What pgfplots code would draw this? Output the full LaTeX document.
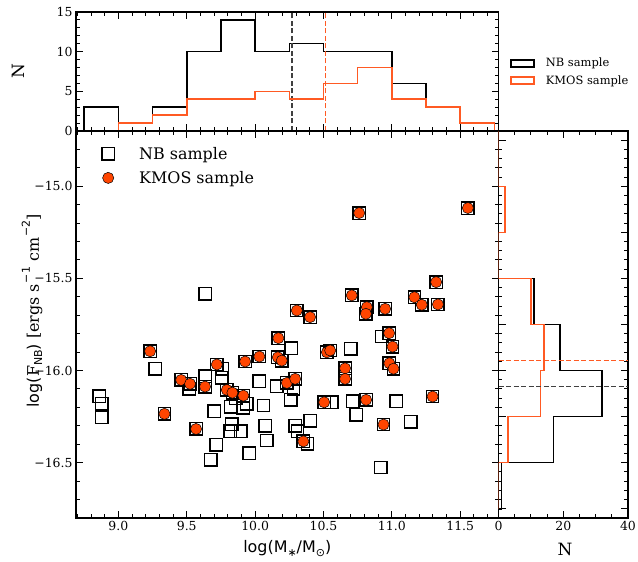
\documentclass[border=0pt]{standalone}
\usepackage{fontspec}
\setmainfont{DejaVu Serif}
\newfontfamily\dvs{DejaVu Sans}
\usepackage{pgfplots}
\pgfplotsset{compat=1.18}
\definecolor{kmos}{RGB}{255,69,0}
\definecolor{kmosline}{RGB}{255,90,35}
\pgfplotsset{mystyle/.style={
  scale only axis,
  axis line style={line width=1.5bp},
  tick align=inside, tick pos=both,
  major tick length=7bp, minor tick length=3.8bp,
  major tick style={line width=1.2bp,black},
  minor tick style={line width=1bp,black},
  tick label style={font=\fontsize{12.5}{14}\selectfont},
  /pgf/number format/assume math mode=true,
}}
\begin{document}
\begin{tikzpicture}
\useasboundingbox (0,0) rectangle (638bp,562bp);
% ---------------- top histogram ----------------
\begin{axis}[mystyle, at={(76bp,431bp)}, anchor=south west,
  width=422.5bp, height=119bp,
  xmin=8.69, xmax=11.78, ymin=0, ymax=15,
  xtick={9,9.5,10,10.5,11,11.5}, xticklabels={},
  minor xtick={8.7,8.8,...,11.75},
  ytick={0,5,10,15}, minor ytick={1,2,3,4,6,7,8,9,11,12,13,14},
  ylabel={N}, ylabel style={font=\fontsize{17}{19}\selectfont, at={(axis description cs:-0.136,0.5)}, anchor=center},
  legend style={at={(axis description cs:1.0272,0.613)}, anchor=north west, draw=none, fill=none,
    inner xsep=0pt, inner ysep=0pt, font=\fontsize{11.5}{13}\selectfont, row sep=7bp,
    nodes={inner sep=0pt}},
  legend cell align=left,
]
\addlegendimage{legend image code/.code={\path[draw=none,fill=none] (0bp,-5bp) rectangle (35bp,5bp);
  \draw[black,line width=1.4bp,fill=none] (0bp,-3.5bp) rectangle (23bp,3.5bp);}}
\addlegendentry{NB sample}
\addlegendimage{legend image code/.code={\path[draw=none,fill=none] (0bp,-5bp) rectangle (35bp,5bp);
  \draw[kmosline,line width=1.4bp,fill=none] (0bp,-3.5bp) rectangle (23bp,3.5bp);}}
\addlegendentry{KMOS sample}
\addplot[color=black, line width=1.5bp, forget plot] coordinates {
(8.75,0) (8.75,3) (9.0,3) (9.0,1) (9.25,1) (9.25,3) (9.5,3) (9.5,10) (9.75,10) (9.75,14)
(10.0,14) (10.0,10) (10.25,10) (10.25,11) (10.5,11) (10.5,10) (10.75,10) (11.0,10) (11.0,6)
(11.25,6) (11.25,3) (11.5,3) (11.5,1) (11.75,1) (11.75,0)};
\addplot[color=black!75, line width=1.4bp, dash pattern=on 5bp off 2.5bp, forget plot] coordinates {(10.27,0) (10.27,15)};
\addplot[color=kmosline, line width=1.4bp, dash pattern=on 5bp off 2.5bp, forget plot] coordinates {(10.515,0) (10.515,15)};
\addplot[color=kmosline, line width=1.6bp, forget plot] coordinates {
(9.0,0) (9.0,1) (9.25,1) (9.25,2) (9.5,2) (9.5,4) (9.75,4) (10.0,4) (10.0,5) (10.25,5)
(10.25,4) (10.5,4) (10.5,6) (10.75,6) (10.75,8) (11.0,8) (11.0,4) (11.25,4) (11.25,3)
(11.5,3) (11.5,1) (11.75,1) (11.75,0)};
\end{axis}
% ---------------- main scatter ----------------
\begin{axis}[mystyle, at={(76bp,44bp)}, anchor=south west,
  width=422.5bp, height=387bp,
  xmin=8.69, xmax=11.78, ymin=-16.80, ymax=-14.70,
  xtick={9,9.5,10,10.5,11,11.5}, xticklabels={9.0,9.5,10.0,10.5,11.0,11.5},
  minor xtick={8.7,8.8,...,11.75},
  ytick={-16.5,-16,-15.5,-15}, yticklabels={−16.5,−16.0,−15.5,−15.0},
  minor ytick={-16.8,-16.7,...,-14.65},
  xlabel={\dvs log(M\lower0.45ex\hbox{\fontsize{11}{11}\selectfont ∗}/M\lower0.45ex\hbox{\fontsize{11}{11}\selectfont ⊙})},
  xlabel style={font=\fontsize{16}{18}\selectfont, at={(axis description cs:0.5,-0.08)}, anchor=center},
  ylabel={{\dvs log(}F\lower0.4ex\hbox{\dvs\fontsize{11}{11}\selectfont NB}{\dvs )} [ergs s\kern1bp\raise1.1ex\hbox{\dvs\fontsize{11}{11}\selectfont −1} cm\kern1bp\raise1.1ex\hbox{\dvs\fontsize{11}{11}\selectfont −2}]},
  ylabel style={font=\fontsize{16}{18}\selectfont, at={(axis description cs:-0.104,0.535)}, anchor=center},
  legend style={at={(axis description cs:0,0.962)}, anchor=north west, draw=none, fill=none,
    inner xsep=0pt, inner ysep=0pt, font=\fontsize{16}{18}\selectfont, row sep=8bp,
    nodes={inner sep=0pt}},
  legend cell align=left,
]
\addlegendimage{legend image code/.code={\path[draw=none,fill=none] (0bp,-8bp) rectangle (63bp,8bp);
  \draw[black,line width=1.4bp,fill=none] (25.8bp,-6.2bp) rectangle (38.2bp,6.2bp);}}
\addlegendentry{NB sample}
\addlegendimage{legend image code/.code={\path[draw=none,fill=none] (0bp,-8bp) rectangle (63bp,8bp);
  \draw[black,line width=0.5bp,fill=kmos] (32bp,0bp) circle (5.6bp);}}
\addlegendentry{KMOS sample}
% NB-only squares
\addplot[only marks, mark=square, mark size=6.2bp, mark options={line width=1.4bp, draw=black}, forget plot] coordinates {
(8.859,-16.140) (8.879,-16.181) (8.879,-16.254) (9.268,-15.991) (9.517,-16.099)
(9.634,-16.031) (9.676,-16.485) (9.702,-16.221) (9.715,-16.402) (9.634,-15.583)
(9.756,-16.040) (9.822,-16.196) (9.914,-16.203) (9.817,-16.330) (9.895,-16.330)
(9.956,-16.449) (10.031,-16.058) (10.061,-16.190) (10.073,-16.299) (10.086,-16.380)
(10.159,-16.085) (10.263,-15.879) (10.280,-16.099) (10.261,-16.159) (10.293,-16.299)
(10.402,-16.272) (10.383,-16.398) (10.700,-15.882) (10.561,-16.172) (10.715,-16.167)
(10.739,-16.241) (10.927,-15.815) (10.920,-16.526) (11.031,-16.167) (11.139,-16.277)
(9.76,-15.99) (9.86,-16.15) (9.83,-16.29) (9.94,-16.18) (10.31,-16.33)
};
% KMOS squares
\addplot[only marks, mark=square, mark size=6.2bp, mark options={line width=1.4bp, draw=black}, forget plot] coordinates {
(9.232,-15.895) (9.337,-16.235) (9.459,-16.051) (9.524,-16.072) (9.568,-16.317)
(9.634,-16.087) (9.720,-15.967) (9.793,-16.105) (9.834,-16.120) (9.914,-16.136)
(9.927,-15.951) (10.031,-15.924) (10.170,-15.824) (10.166,-15.928) (10.195,-15.946)
(10.232,-16.067) (10.293,-16.045) (10.353,-16.384) (10.305,-15.674) (10.402,-15.710)
(10.525,-15.901) (10.549,-15.891) (10.658,-15.988) (10.658,-16.045) (10.505,-16.172)
(10.707,-15.592) (10.761,-15.145) (10.817,-15.656) (10.810,-15.692) (10.951,-15.665)
(10.980,-15.797) (10.812,-16.159) (10.982,-15.960) (10.939,-16.293) (11.005,-15.870)
(11.012,-15.990) (11.165,-15.602) (11.219,-15.643) (11.337,-15.641) (11.324,-15.520)
(11.298,-16.141) (11.556,-15.118)
};
% KMOS circles
\addplot[only marks, mark=*, mark size=5.6bp, mark options={line width=0.5bp, draw=black, fill=kmos}, forget plot] coordinates {
(9.232,-15.895) (9.337,-16.235) (9.459,-16.051) (9.524,-16.072) (9.568,-16.317)
(9.634,-16.087) (9.720,-15.967) (9.793,-16.105) (9.834,-16.120) (9.914,-16.136)
(9.927,-15.951) (10.031,-15.924) (10.170,-15.824) (10.166,-15.928) (10.195,-15.946)
(10.232,-16.067) (10.293,-16.045) (10.353,-16.384) (10.305,-15.674) (10.402,-15.710)
(10.525,-15.901) (10.549,-15.891) (10.658,-15.988) (10.658,-16.045) (10.505,-16.172)
(10.707,-15.592) (10.761,-15.145) (10.817,-15.656) (10.810,-15.692) (10.951,-15.665)
(10.980,-15.797) (10.812,-16.159) (10.982,-15.960) (10.939,-16.293) (11.005,-15.870)
(11.012,-15.990) (11.165,-15.602) (11.219,-15.643) (11.337,-15.641) (11.324,-15.520)
(11.298,-16.141) (11.556,-15.118)
};
\end{axis}
% ---------------- right histogram ----------------
\begin{axis}[mystyle, at={(498.5bp,44bp)}, anchor=south west,
  width=129.5bp, height=387bp,
  xmin=0, xmax=40, ymin=-16.80, ymax=-14.70,
  xtick={0,20,40}, minor xtick={5,10,15,25,30,35},
  ytick={-16.75,-16.5,-16.25,-16,-15.75,-15.5,-15.25,-15,-14.75}, yticklabels={},
  minor ytick={-16.8,-16.75,...,-14.65},
  xlabel={N}, xlabel style={font=\fontsize{17}{19}\selectfont, at={(axis description cs:0.513,-0.08)}, anchor=center},
]
\addplot[color=black, line width=1.5bp] coordinates {
(0,-15.0) (2,-15.0) (2,-15.25) (0,-15.25) (0,-15.5) (11,-15.5) (11,-15.75) (19,-15.75)
(19,-16.0) (32,-16.0) (32,-16.25) (17,-16.25) (17,-16.5) (1,-16.5) (1,-16.75) (0,-16.75)};
\addplot[color=kmosline, line width=1.5bp] coordinates {
(0,-14.70) (0,-15.0) (2,-15.0) (2,-15.25) (0,-15.25) (0,-15.5) (10,-15.5) (10,-15.75) (14,-15.75)
(14,-16.0) (13,-16.0) (13,-16.25) (3,-16.25) (3,-16.5) (0,-16.5) (0,-16.75)};
\addplot[color=kmosline, line width=1.4bp, dash pattern=on 5bp off 2.5bp] coordinates {(0,-15.946) (40,-15.946)};
\addplot[color=black!75, line width=1.4bp, dash pattern=on 5bp off 2.5bp] coordinates {(0,-16.085) (40,-16.085)};
\end{axis}
\end{tikzpicture}
\end{document}
